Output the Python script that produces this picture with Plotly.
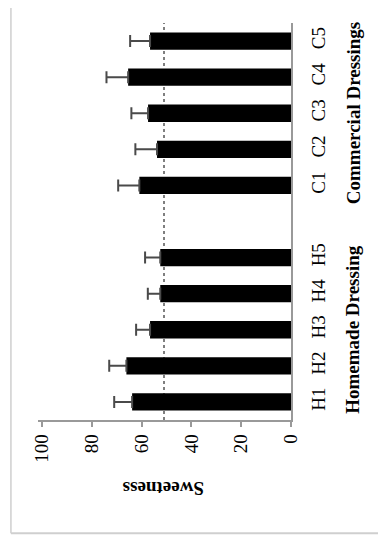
import plotly.graph_objects as go

homemade_labels = ["H1", "H2", "H3", "H4", "H5"]
homemade_values = [63.8, 66.1, 56.6, 52.5, 52.5]
homemade_errors = [7.2, 6.9, 5.6, 5.0, 6.1]

commercial_labels = ["C1", "C2", "C3", "C4", "C5"]
commercial_values = [60.9, 53.8, 57.4, 65.4, 56.6]
commercial_errors = [8.5, 8.7, 6.7, 8.7, 8.0]

reference_value = 51
value_ticks = [0, 20, 40, 60, 80, 100]
value_title = "Sweetness"
group_titles = ["Homemade Dressing", "Commercial Dressings"]

# slot positions: homemade 0-4, blank slot 5, commercial 6-10
labels = homemade_labels + commercial_labels
positions = list(range(len(homemade_labels))) + [len(homemade_labels) + 1 + i for i in range(len(commercial_labels))]
values = homemade_values + commercial_values
errors = homemade_errors + commercial_errors

FONT = "Liberation Serif"

fig = go.Figure()
fig.add_trace(go.Bar(
    x=values, y=positions, orientation="h",
    marker=dict(color="black", line=dict(width=0)),
    width=0.48,
    error_x=dict(type="data", array=errors, arrayminus=[0] * len(errors), symmetric=False,
                 color="#4a4a4a", thickness=2, width=6),
    showlegend=False,
))

fig.add_shape(type="line", xref="x", yref="paper", x0=reference_value, x1=reference_value, y0=0, y1=1,
              line=dict(color="#555555", width=1.5, dash="dot"), layer="below")

# outer frame (light gray)
fig.add_shape(type="line", xref="paper", yref="paper", x0=-0.107, x1=-0.107, y0=-0.285, y1=1.2,
              line=dict(color="#cfcfcf", width=1.5))
fig.add_shape(type="line", xref="paper", yref="paper", x0=-0.107, x1=2, y0=-0.285, y1=-0.285,
              line=dict(color="#cfcfcf", width=2))

fig.add_annotation(text="<b>" + value_title + "</b>", textangle=180, xref="x", yref="paper", x=51, y=-0.172,
                   showarrow=False, font=dict(family=FONT, size=19, color="black"), xanchor="center", yanchor="middle")
fig.add_annotation(text="<b>" + group_titles[0] + "</b>", textangle=-90, xref="paper", yref="y",
                   x=1.245, y=2, showarrow=False, font=dict(family=FONT, size=19, color="black"),
                   xanchor="center", yanchor="middle")
fig.add_annotation(text="<b>" + group_titles[1] + "</b>", textangle=-90, xref="paper", yref="y",
                   x=1.245, y=8, showarrow=False, font=dict(family=FONT, size=19, color="black"),
                   xanchor="center", yanchor="middle")

fig.update_layout(
    width=386, height=541,
    margin=dict(l=30, r=103, t=15, b=129),
    paper_bgcolor="white", plot_bgcolor="white",
    bargap=0.5,
)
fig.update_xaxes(
    range=[101.6, 0], tickvals=value_ticks, tickangle=-90,
    showline=True, linecolor="#999999", linewidth=1.5,
    ticks="outside", ticklen=5, tickcolor="#999999", tickwidth=1.5,
    showgrid=False, zeroline=False,
    tickfont=dict(family=FONT, size=19, color="black"),
)
fig.update_yaxes(
    range=[-0.5, 10.5], tickvals=positions, ticktext=labels, tickangle=-90, side="right",
    showline=True, linecolor="#999999", linewidth=1.5, ticks="", ticklabelstandoff=9,
    showgrid=False, zeroline=False,
    tickfont=dict(family=FONT, size=19, color="black"),
)

fig.write_html("out.html")
